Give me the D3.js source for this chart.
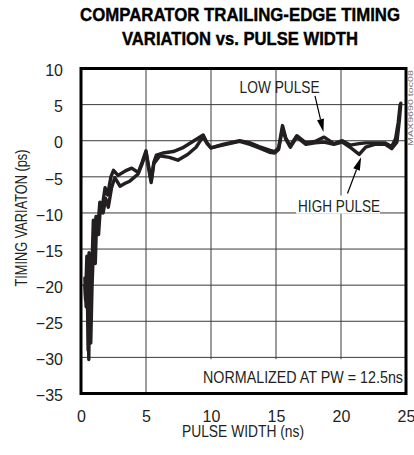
<!DOCTYPE html>
<html>
<head>
<meta charset="utf-8">
<script src="https://cdn.jsdelivr.net/npm/d3@7"></script>
<style>
  html, body { margin: 0; padding: 0; background: #fff; }
  svg { display: block; }
</style>
</head>
<body>
<svg id="chart" width="414" height="455"></svg>
<script>
// ---------- data ----------
const titleLines = ["COMPARATOR TRAILING-EDGE TIMING", "VARIATION vs. PULSE WIDTH"];
const xTicks = [0, 5, 10, 15, 20, 25];
const yTicks = [10, 5, 0, -5, -10, -15, -20, -25, -30, -35];
const xLabel = "PULSE WIDTH (ns)";
const yLabel = "TIMING VARIATON (ps)";
const noteText = "NORMALIZED AT PW = 12.5ns";
const tocText = "MAX9690 toc08";

// [pulse width ns, timing variation ps]
const lowPulse = [
  [0.3,-19],[0.35,-22],[0.45,-16],[0.55,-29],[0.62,-15.5],[0.7,-24],[0.8,-20],
  [0.95,-11],[1.05,-16],[1.15,-10.5],[1.3,-12],[1.45,-8.5],[1.65,-9],[1.85,-6.5],
  [2.05,-7.5],[2.3,-5],[2.5,-4.1],[2.85,-4.8],[3.5,-4.1],[3.9,-3.8],[4.4,-4.4],
  [4.7,-3],[5.0,-1.4],[5.2,-3.5],[5.4,-5.5],[5.6,-3],[5.8,-2.0],[6.3,-1.7],
  [7.1,-1.5],[7.8,-1.0],[8.6,-0.1],[9.4,0.8],[9.7,-0.3],[10.0,-1.0],[10.9,-0.5],
  [12.2,0],[13.0,-0.3],[13.7,-0.8],[14.5,-1.3],[14.9,-1.5],[15.2,-1.0],[15.5,2.1],
  [15.75,0.4],[16.1,-0.7],[16.6,0.7],[17.3,-0.3],[18.0,-0.1],[18.7,0.5],[19.45,-0.4],
  [20.1,0],[20.7,-0.6],[21.4,-0.4],[21.9,-0.3],[22.6,-0.3],[23.4,-0.3],[23.9,-0.8],
  [24.2,0.3],[24.4,2.5],[24.55,5.0]
];
const highPulse = [
  [0.3,-20],[0.4,-23],[0.5,-17],[0.6,-30.3],[0.68,-16],[0.75,-28],[0.85,-20],
  [1.0,-13],[1.1,-17],[1.2,-11],[1.35,-13],[1.5,-9],[1.7,-10],[1.9,-8],[2.1,-9.2],
  [2.35,-6.5],[2.6,-5.1],[3.0,-6.3],[3.4,-5.9],[3.75,-5.6],[4.4,-4.6],[4.7,-3.2],
  [5.0,-1.6],[5.2,-3.8],[5.4,-5.8],[5.6,-3.2],[6.05,-2.1],[6.8,-2.3],[7.45,-2.7],
  [8.2,-1.9],[8.85,-0.9],[9.4,0.6],[9.7,-0.4],[10.0,-1.0],[10.9,-0.6],[12.2,-0.1],
  [13.0,-0.5],[13.7,-1.0],[14.5,-1.6],[14.9,-1.7],[15.2,-1.2],[15.5,1.7],[15.75,0.2],
  [16.1,-0.9],[16.6,0.5],[17.3,-0.5],[18.0,-0.3],[18.7,-0.2],[19.45,-0.5],[20.1,-0.2],
  [20.7,-0.9],[21.4,-1.9],[21.9,-0.9],[22.6,-0.5],[23.4,-0.5],[23.9,-1.1],[24.3,-0.2],
  [24.5,3],[24.6,5.2]
];
// annotation anchors in data units
const lowLabel = { text: "LOW PULSE", at: [12.2, 6.6], width: 80, from: [18.0, 6.2], to: [18.65, 1.2] };
const highLabel = { text: "HIGH PULSE", at: [16.7, -9.8], width: 82, from: [20.5, -7.3], to: [21.55, -2.3] };

// ---------- layout ----------
const svg = d3.select("#chart");
const L = 81, R = 406, T = 68.5, B = 393.5;
const x = d3.scaleLinear().domain([0, 25]).range([L, R]);
const y = d3.scaleLinear().domain([-35, 10]).range([B, T]);
const font = "'Liberation Sans', Arial, sans-serif";
const ink = "#231f20";
const txt = "#231f20";

// title
svg.append("g").selectAll("text").data(titleLines).join("text")
  .attr("x", 240).attr("y", (d, i) => 20.5 + i * 24.5)
  .attr("text-anchor", "middle")
  .attr("font-family", font).attr("font-weight", "bold").attr("font-size", 19)
  .attr("textLength", (d, i) => i === 0 ? 320 : 236)
  .attr("lengthAdjust", "spacingAndGlyphs")
  .attr("stroke", "#000").attr("stroke-width", 0.4)
  .attr("fill", "#000")
  .text(d => d);

// gridlines
const grid = svg.append("g").attr("stroke", "#3a3a3a").attr("stroke-width", 1);
grid.selectAll("line.v").data(xTicks.slice(1, -1)).join("line")
  .attr("x1", d => x(d)).attr("x2", d => x(d)).attr("y1", T).attr("y2", B);
grid.selectAll("line.h").data(yTicks.slice(1, -1)).join("line").attr("class", "h")
  .attr("x1", L).attr("x2", R).attr("y1", d => y(d)).attr("y2", d => y(d));

// white label boxes that cover gridlines
svg.append("rect").attr("x", x(16.55)).attr("y", y(-7.6))
  .attr("width", x(23.0) - x(16.55)).attr("height", y(-10.1) - y(-7.6)).attr("fill", "#fff");
svg.append("rect").attr("x", x(9.1)).attr("y", y(-30.25))
  .attr("width", R - x(9.1)).attr("height", B - y(-30.25)).attr("fill", "#fff");

// short inside ticks at bottom
grid.selectAll("line.t").data([10, 15, 20]).join("line").attr("class", "t")
  .attr("x1", d => x(d)).attr("x2", d => x(d)).attr("y1", B - 6).attr("y2", B);

// curves
const line = d3.line().x(d => x(d[0])).y(d => y(d[1])).curve(d3.curveLinear);
svg.append("g").selectAll("path").data([lowPulse, highPulse]).join("path")
  .attr("d", line).attr("fill", "none").attr("stroke", ink)
  .attr("stroke-width", 3.4).attr("stroke-linejoin", "round").attr("stroke-linecap", "round");

// frame
svg.append("rect").attr("x", L).attr("y", T).attr("width", R - L).attr("height", B - T)
  .attr("fill", "none").attr("stroke", "#000").attr("stroke-width", 3);

// axes labels
const xAxis = d3.axisBottom(x).tickValues(xTicks).tickSize(0).tickPadding(17);
const gx = svg.append("g").attr("transform", `translate(0,${B})`).call(xAxis);
const yAxis = d3.axisLeft(y).tickValues(yTicks).tickSize(0).tickPadding(18);
const gy = svg.append("g").attr("transform", `translate(${L},0)`).call(yAxis);
[gx, gy].forEach(g => {
  g.select(".domain").remove();
  g.selectAll("text").attr("font-family", font).attr("font-size", 16).attr("fill", txt);
});
gy.selectAll("text").attr("dy", "0.45em");

svg.append("text").attr("x", 243).attr("y", 437).attr("text-anchor", "middle")
  .attr("font-family", font).attr("font-size", 16).attr("fill", txt)
  .attr("textLength", 122).attr("lengthAdjust", "spacingAndGlyphs").text(xLabel);
svg.append("text").attr("transform", "translate(27,218) rotate(-90)").attr("text-anchor", "middle")
  .attr("font-family", font).attr("font-size", 16).attr("fill", txt)
  .attr("textLength", 137).attr("lengthAdjust", "spacingAndGlyphs").text(yLabel);

// note
svg.append("text").attr("x", 403).attr("y", 383).attr("text-anchor", "end")
  .attr("font-family", font).attr("font-size", 17).attr("fill", txt)
  .attr("textLength", 200).attr("lengthAdjust", "spacingAndGlyphs").text(noteText);

// toc label
svg.append("text").attr("transform", "translate(413,146) rotate(-90)")
  .attr("font-family", font).attr("font-size", 7).attr("fill", "#777")
  .attr("textLength", 76).attr("lengthAdjust", "spacingAndGlyphs")
  .text(tocText);

// annotations with arrows
function arrow(a) {
  const x1 = x(a.from[0]), y1 = y(a.from[1]), x2 = x(a.to[0]), y2 = y(a.to[1]);
  const ang = Math.atan2(y2 - y1, x2 - x1);
  const len = 13, half = 3.5;
  const bx = x2 - len * Math.cos(ang), by = y2 - len * Math.sin(ang);
  const px = -Math.sin(ang) * half, py = Math.cos(ang) * half;
  svg.append("line").attr("x1", x1).attr("y1", y1).attr("x2", bx).attr("y2", by)
    .attr("stroke", "#000").attr("stroke-width", 1.2);
  svg.append("path").attr("d", `M${x2},${y2}L${bx + px},${by + py}L${bx - px},${by - py}Z`)
    .attr("fill", "#000");
}
[lowLabel, highLabel].forEach(a => {
  svg.append("text").attr("x", x(a.at[0])).attr("y", y(a.at[1]))
    .attr("font-family", font).attr("font-size", 17).attr("fill", txt)
    .attr("textLength", a.width).attr("lengthAdjust", "spacingAndGlyphs").text(a.text);
  arrow(a);
});
</script>
</body>
</html>
